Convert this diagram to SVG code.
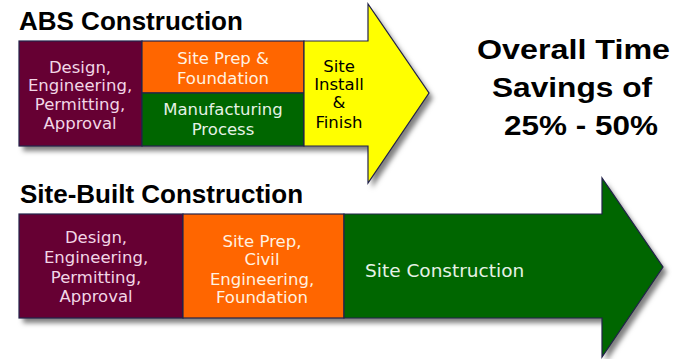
<svg xmlns="http://www.w3.org/2000/svg" width="675" height="359" viewBox="0 0 675 359">
<defs>
<filter id="sh" x="-10%" y="-10%" width="130%" height="130%">
<feDropShadow dx="4" dy="5" stdDeviation="2.5" flood-color="#000" flood-opacity="0.5"/>
</filter>
</defs>
<style>
.title{font-family:"Liberation Sans",Arial,sans-serif;font-weight:bold;font-size:26px;fill:#000}
.big{font-family:"Liberation Sans",Arial,sans-serif;font-weight:bold;font-size:28px;fill:#000}
.lbl{font-family:"DejaVu Sans",Verdana,sans-serif;font-size:16.5px;text-anchor:middle}
.lp{fill:#f2d6e6}
.lo{fill:#fff2e2}
.lg{fill:#e6f2e6}
.ly{fill:#000}
.seg{stroke:#22224a;stroke-width:1.2}
</style>
<rect width="675" height="359" fill="#fff"/>
<text class="title" x="19" y="30">ABS Construction</text>
<text class="title" x="20" y="203">Site-Built Construction</text>
<g id="savings">
<text class="big" x="477" y="59" textLength="193" lengthAdjust="spacingAndGlyphs">Overall Time</text>
<text class="big" x="492" y="97" textLength="160" lengthAdjust="spacingAndGlyphs">Savings of</text>
<text class="big" x="504" y="135" textLength="154" lengthAdjust="spacingAndGlyphs">25% - 50%</text>
</g>
<g id="abs-arrow">
<path d="M19,41 H368 V4 L429,93 L368,183 V146 H19 Z" fill="#444" filter="url(#sh)"/>
<g id="abs-design">
<rect class="seg" x="19" y="41" width="123" height="105" fill="#660033"/>
<text class="lbl lp" x="80" y="73">Design,</text>
<text class="lbl lp" x="80" y="91">Engineering,</text>
<text class="lbl lp" x="80" y="110">Permitting,</text>
<text class="lbl lp" x="80" y="129">Approval</text>
</g>
<g id="abs-siteprep">
<rect class="seg" x="142" y="41" width="162" height="52" fill="#ff6600"/>
<text class="lbl lo" x="223" y="64">Site Prep &amp;</text>
<text class="lbl lo" x="223" y="84">Foundation</text>
</g>
<g id="abs-manufacturing">
<rect class="seg" x="142" y="93" width="162" height="53" fill="#006600"/>
<text class="lbl lg" x="223" y="115">Manufacturing</text>
<text class="lbl lg" x="223" y="135">Process</text>
</g>
<g id="abs-install">
<path class="seg" d="M304,41 H368 V4 L429,93 L368,183 V146 H304 Z" fill="#ffff00"/>
<text class="lbl ly" x="339" y="72">Site</text>
<text class="lbl ly" x="339" y="90">Install</text>
<text class="lbl ly" x="339" y="108">&amp;</text>
<text class="lbl ly" x="339" y="128">Finish</text>
</g>
</g>
<g id="site-arrow">
<path d="M19,214 H602 V178 L663,267 L602,357 V318 H19 Z" fill="#444" filter="url(#sh)"/>
<g id="site-design">
<rect class="seg" x="19" y="214" width="164" height="104" fill="#660033"/>
<text class="lbl lp" x="96" y="243">Design,</text>
<text class="lbl lp" x="96" y="263">Engineering,</text>
<text class="lbl lp" x="96" y="283">Permitting,</text>
<text class="lbl lp" x="96" y="302">Approval</text>
</g>
<g id="site-prep">
<rect class="seg" x="183" y="214" width="161" height="104" fill="#ff6600"/>
<text class="lbl lo" x="262" y="247">Site Prep,</text>
<text class="lbl lo" x="262" y="265">Civil</text>
<text class="lbl lo" x="262" y="285">Engineering,</text>
<text class="lbl lo" x="262" y="303">Foundation</text>
</g>
<g id="site-construction">
<path class="seg" d="M344,214 H602 V178 L663,267 L602,357 V318 H344 Z" fill="#006600"/>
<text class="lbl lg" x="365" y="277" style="text-anchor:start;font-size:18.5px">Site Construction</text>
</g>
</g>
</svg>
